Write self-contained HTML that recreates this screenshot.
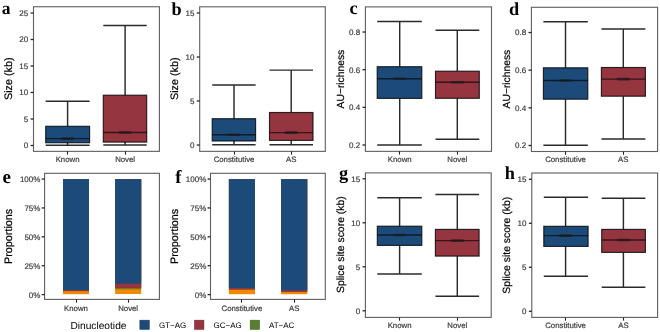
<!DOCTYPE html>
<html><head><meta charset="utf-8"><style>
html,body{margin:0;padding:0;background:#fff;}
body{width:660px;height:332px;overflow:hidden;}
svg{display:block;font-family:"Liberation Sans",sans-serif;will-change:transform;text-rendering:geometricPrecision;}
</style></head><body>
<svg width="660" height="332" viewBox="0 0 660 332">
<rect width="660" height="332" fill="#fff"/>
<g>
<rect x="33.5" y="6.75" width="125.90" height="144.60" fill="none" stroke="#5e5e5e" stroke-width="1.1"/>
<line x1="30.6" y1="145.50" x2="33.5" y2="145.50" stroke="#262626" stroke-width="1.3"/>
<text x="28.20" y="148.40" text-anchor="end" font-size="8" fill="#404040" stroke="#404040" stroke-width="0.2">0</text>
<line x1="30.6" y1="119.00" x2="33.5" y2="119.00" stroke="#262626" stroke-width="1.3"/>
<text x="28.20" y="121.90" text-anchor="end" font-size="8" fill="#404040" stroke="#404040" stroke-width="0.2">5</text>
<line x1="30.6" y1="92.50" x2="33.5" y2="92.50" stroke="#262626" stroke-width="1.3"/>
<text x="28.20" y="95.40" text-anchor="end" font-size="8" fill="#404040" stroke="#404040" stroke-width="0.2">10</text>
<line x1="30.6" y1="66.00" x2="33.5" y2="66.00" stroke="#262626" stroke-width="1.3"/>
<text x="28.20" y="68.90" text-anchor="end" font-size="8" fill="#404040" stroke="#404040" stroke-width="0.2">15</text>
<line x1="30.6" y1="39.50" x2="33.5" y2="39.50" stroke="#262626" stroke-width="1.3"/>
<text x="28.20" y="42.40" text-anchor="end" font-size="8" fill="#404040" stroke="#404040" stroke-width="0.2">20</text>
<line x1="30.6" y1="13.00" x2="33.5" y2="13.00" stroke="#262626" stroke-width="1.3"/>
<text x="28.20" y="15.90" text-anchor="end" font-size="8" fill="#404040" stroke="#404040" stroke-width="0.2">25</text>
<line x1="67.5" y1="151.35" x2="67.5" y2="154.65" stroke="#262626" stroke-width="1.1"/>
<text x="67.6" y="161.95" text-anchor="middle" font-size="7.8" fill="#404040" stroke="#404040" stroke-width="0.2">Known</text>
<line x1="125.5" y1="151.35" x2="125.5" y2="154.65" stroke="#262626" stroke-width="1.1"/>
<text x="125.1" y="161.95" text-anchor="middle" font-size="7.8" fill="#404040" stroke="#404040" stroke-width="0.2">Novel</text>
<text transform="translate(12.1,78.7) rotate(-90)" text-anchor="middle" font-size="10.8" fill="#000" stroke="#000" stroke-width="0.2">Size (kb)</text>
<text x="1.8" y="14.0" font-family="Liberation Serif, serif" font-weight="bold" font-size="17.5" fill="#000">a</text>
<line x1="67.6" y1="101.3" x2="67.6" y2="126.3" stroke="#2a2a2a" stroke-width="1.45"/>
<line x1="67.6" y1="142.75" x2="67.6" y2="145.3" stroke="#2a2a2a" stroke-width="1.45"/>
<line x1="45.7" y1="101.3" x2="89.6" y2="101.3" stroke="#2a2a2a" stroke-width="1.45"/>
<line x1="45.7" y1="145.3" x2="89.6" y2="145.3" stroke="#2a2a2a" stroke-width="1.45"/>
<rect x="45.7" y="126.3" width="43.90" height="16.45" fill="#1d4b79" stroke="#000" stroke-opacity="0.8" stroke-width="1.15"/>
<line x1="45.7" y1="138.6" x2="89.6" y2="138.6" stroke="#000" stroke-opacity="0.62" stroke-width="1.45"/>
<rect x="61.00" y="137.30" width="13.2" height="2.6" rx="1.2" fill="#1a1a1a" fill-opacity="0.7"/>
<line x1="125.1" y1="25.4" x2="125.1" y2="95.2" stroke="#2a2a2a" stroke-width="1.45"/>
<line x1="125.1" y1="142.1" x2="125.1" y2="144.9" stroke="#2a2a2a" stroke-width="1.45"/>
<line x1="103.3" y1="25.4" x2="146.7" y2="25.4" stroke="#2a2a2a" stroke-width="1.45"/>
<line x1="103.3" y1="144.9" x2="146.7" y2="144.9" stroke="#2a2a2a" stroke-width="1.45"/>
<rect x="103.3" y="95.2" width="43.40" height="46.90" fill="#953540" stroke="#000" stroke-opacity="0.8" stroke-width="1.15"/>
<line x1="103.3" y1="132.5" x2="146.7" y2="132.5" stroke="#000" stroke-opacity="0.62" stroke-width="1.45"/>
<rect x="118.50" y="131.20" width="13.2" height="2.6" rx="1.2" fill="#1a1a1a" fill-opacity="0.7"/>
<rect x="199.7" y="6.8" width="125.60" height="144.55" fill="none" stroke="#5e5e5e" stroke-width="1.1"/>
<line x1="196.79999999999998" y1="145.00" x2="199.7" y2="145.00" stroke="#262626" stroke-width="1.3"/>
<text x="194.40" y="147.90" text-anchor="end" font-size="8" fill="#404040" stroke="#404040" stroke-width="0.2">0</text>
<line x1="196.79999999999998" y1="101.00" x2="199.7" y2="101.00" stroke="#262626" stroke-width="1.3"/>
<text x="194.40" y="103.90" text-anchor="end" font-size="8" fill="#404040" stroke="#404040" stroke-width="0.2">5</text>
<line x1="196.79999999999998" y1="57.00" x2="199.7" y2="57.00" stroke="#262626" stroke-width="1.3"/>
<text x="194.40" y="59.90" text-anchor="end" font-size="8" fill="#404040" stroke="#404040" stroke-width="0.2">10</text>
<line x1="196.79999999999998" y1="13.00" x2="199.7" y2="13.00" stroke="#262626" stroke-width="1.3"/>
<text x="194.40" y="15.90" text-anchor="end" font-size="8" fill="#404040" stroke="#404040" stroke-width="0.2">15</text>
<line x1="234.5" y1="151.35" x2="234.5" y2="154.65" stroke="#262626" stroke-width="1.1"/>
<text x="234.0" y="161.95" text-anchor="middle" font-size="7.8" fill="#404040" stroke="#404040" stroke-width="0.2">Constitutive</text>
<line x1="291.5" y1="151.35" x2="291.5" y2="154.65" stroke="#262626" stroke-width="1.1"/>
<text x="291.2" y="161.95" text-anchor="middle" font-size="7.8" fill="#404040" stroke="#404040" stroke-width="0.2">AS</text>
<text transform="translate(178.1,78.7) rotate(-90)" text-anchor="middle" font-size="10.8" fill="#000" stroke="#000" stroke-width="0.2">Size (kb)</text>
<text x="171.6" y="14.8" font-family="Liberation Serif, serif" font-weight="bold" font-size="18.3" fill="#000">b</text>
<line x1="234.0" y1="85.0" x2="234.0" y2="118.7" stroke="#2a2a2a" stroke-width="1.45"/>
<line x1="234.0" y1="141.0" x2="234.0" y2="144.7" stroke="#2a2a2a" stroke-width="1.45"/>
<line x1="212.2" y1="85.0" x2="255.6" y2="85.0" stroke="#2a2a2a" stroke-width="1.45"/>
<line x1="212.2" y1="144.7" x2="255.6" y2="144.7" stroke="#2a2a2a" stroke-width="1.45"/>
<rect x="212.2" y="118.7" width="43.40" height="22.30" fill="#1d4b79" stroke="#000" stroke-opacity="0.8" stroke-width="1.15"/>
<line x1="212.2" y1="134.7" x2="255.6" y2="134.7" stroke="#000" stroke-opacity="0.62" stroke-width="1.45"/>
<rect x="227.40" y="133.40" width="13.2" height="2.6" rx="1.2" fill="#1a1a1a" fill-opacity="0.7"/>
<line x1="291.2" y1="70.1" x2="291.2" y2="112.5" stroke="#2a2a2a" stroke-width="1.45"/>
<line x1="291.2" y1="140.4" x2="291.2" y2="144.75" stroke="#2a2a2a" stroke-width="1.45"/>
<line x1="269.5" y1="70.1" x2="313.0" y2="70.1" stroke="#2a2a2a" stroke-width="1.45"/>
<line x1="269.5" y1="144.75" x2="313.0" y2="144.75" stroke="#2a2a2a" stroke-width="1.45"/>
<rect x="269.5" y="112.5" width="43.50" height="27.90" fill="#953540" stroke="#000" stroke-opacity="0.8" stroke-width="1.15"/>
<line x1="269.5" y1="132.6" x2="313.0" y2="132.6" stroke="#000" stroke-opacity="0.62" stroke-width="1.45"/>
<rect x="284.60" y="131.30" width="13.2" height="2.6" rx="1.2" fill="#1a1a1a" fill-opacity="0.7"/>
<rect x="365.4" y="6.9" width="126.10" height="144.45" fill="none" stroke="#5e5e5e" stroke-width="1.1"/>
<line x1="362.5" y1="145.00" x2="365.4" y2="145.00" stroke="#262626" stroke-width="1.3"/>
<text x="360.10" y="147.90" text-anchor="end" font-size="8" fill="#404040" stroke="#404040" stroke-width="0.2">0.2</text>
<line x1="362.5" y1="107.34" x2="365.4" y2="107.34" stroke="#262626" stroke-width="1.3"/>
<text x="360.10" y="110.24" text-anchor="end" font-size="8" fill="#404040" stroke="#404040" stroke-width="0.2">0.4</text>
<line x1="362.5" y1="69.68" x2="365.4" y2="69.68" stroke="#262626" stroke-width="1.3"/>
<text x="360.10" y="72.58" text-anchor="end" font-size="8" fill="#404040" stroke="#404040" stroke-width="0.2">0.6</text>
<line x1="362.5" y1="32.02" x2="365.4" y2="32.02" stroke="#262626" stroke-width="1.3"/>
<text x="360.10" y="34.92" text-anchor="end" font-size="8" fill="#404040" stroke="#404040" stroke-width="0.2">0.8</text>
<line x1="399.5" y1="151.35" x2="399.5" y2="154.65" stroke="#262626" stroke-width="1.1"/>
<text x="399.7" y="161.95" text-anchor="middle" font-size="7.8" fill="#404040" stroke="#404040" stroke-width="0.2">Known</text>
<line x1="457.5" y1="151.35" x2="457.5" y2="154.65" stroke="#262626" stroke-width="1.1"/>
<text x="457.3" y="161.95" text-anchor="middle" font-size="7.8" fill="#404040" stroke="#404040" stroke-width="0.2">Novel</text>
<text transform="translate(344.1,79.1) rotate(-90)" text-anchor="middle" font-size="10.3" fill="#000" stroke="#000" stroke-width="0.2">AU−richness</text>
<text x="349.6" y="13.6" font-family="Liberation Serif, serif" font-weight="bold" font-size="18.3" fill="#000">c</text>
<line x1="399.7" y1="21.5" x2="399.7" y2="66.7" stroke="#2a2a2a" stroke-width="1.45"/>
<line x1="399.7" y1="98.4" x2="399.7" y2="145.0" stroke="#2a2a2a" stroke-width="1.45"/>
<line x1="377.2" y1="21.5" x2="421.8" y2="21.5" stroke="#2a2a2a" stroke-width="1.45"/>
<line x1="377.2" y1="145.0" x2="421.8" y2="145.0" stroke="#2a2a2a" stroke-width="1.45"/>
<rect x="377.2" y="66.7" width="44.60" height="31.70" fill="#1d4b79" stroke="#000" stroke-opacity="0.8" stroke-width="1.15"/>
<line x1="377.2" y1="78.8" x2="421.8" y2="78.8" stroke="#000" stroke-opacity="0.62" stroke-width="1.45"/>
<rect x="393.10" y="77.50" width="13.2" height="2.6" rx="1.2" fill="#1a1a1a" fill-opacity="0.7"/>
<line x1="457.3" y1="30.2" x2="457.3" y2="71.2" stroke="#2a2a2a" stroke-width="1.45"/>
<line x1="457.3" y1="98.3" x2="457.3" y2="139.3" stroke="#2a2a2a" stroke-width="1.45"/>
<line x1="435.5" y1="30.2" x2="479.3" y2="30.2" stroke="#2a2a2a" stroke-width="1.45"/>
<line x1="435.5" y1="139.3" x2="479.3" y2="139.3" stroke="#2a2a2a" stroke-width="1.45"/>
<rect x="435.5" y="71.2" width="43.80" height="27.10" fill="#953540" stroke="#000" stroke-opacity="0.8" stroke-width="1.15"/>
<line x1="435.5" y1="82.3" x2="479.3" y2="82.3" stroke="#000" stroke-opacity="0.62" stroke-width="1.45"/>
<rect x="450.70" y="81.00" width="13.2" height="2.6" rx="1.2" fill="#1a1a1a" fill-opacity="0.7"/>
<rect x="531.4" y="7.3" width="126.20" height="144.20" fill="none" stroke="#5e5e5e" stroke-width="1.1"/>
<line x1="528.5" y1="145.50" x2="531.4" y2="145.50" stroke="#262626" stroke-width="1.3"/>
<text x="526.10" y="148.40" text-anchor="end" font-size="8" fill="#404040" stroke="#404040" stroke-width="0.2">0.2</text>
<line x1="528.5" y1="107.84" x2="531.4" y2="107.84" stroke="#262626" stroke-width="1.3"/>
<text x="526.10" y="110.74" text-anchor="end" font-size="8" fill="#404040" stroke="#404040" stroke-width="0.2">0.4</text>
<line x1="528.5" y1="70.18" x2="531.4" y2="70.18" stroke="#262626" stroke-width="1.3"/>
<text x="526.10" y="73.08" text-anchor="end" font-size="8" fill="#404040" stroke="#404040" stroke-width="0.2">0.6</text>
<line x1="528.5" y1="32.52" x2="531.4" y2="32.52" stroke="#262626" stroke-width="1.3"/>
<text x="526.10" y="35.42" text-anchor="end" font-size="8" fill="#404040" stroke="#404040" stroke-width="0.2">0.8</text>
<line x1="565.5" y1="151.5" x2="565.5" y2="154.80" stroke="#262626" stroke-width="1.1"/>
<text x="565.5" y="162.10" text-anchor="middle" font-size="7.8" fill="#404040" stroke="#404040" stroke-width="0.2">Constitutive</text>
<line x1="623.5" y1="151.5" x2="623.5" y2="154.80" stroke="#262626" stroke-width="1.1"/>
<text x="623.3" y="162.10" text-anchor="middle" font-size="7.8" fill="#404040" stroke="#404040" stroke-width="0.2">AS</text>
<text transform="translate(510.1,79.1) rotate(-90)" text-anchor="middle" font-size="10.3" fill="#000" stroke="#000" stroke-width="0.2">AU−richness</text>
<text x="509.1" y="14.8" font-family="Liberation Serif, serif" font-weight="bold" font-size="18.3" fill="#000">d</text>
<line x1="565.5" y1="21.8" x2="565.5" y2="67.8" stroke="#2a2a2a" stroke-width="1.45"/>
<line x1="565.5" y1="99.2" x2="565.5" y2="145.2" stroke="#2a2a2a" stroke-width="1.45"/>
<line x1="543.4" y1="21.8" x2="587.8" y2="21.8" stroke="#2a2a2a" stroke-width="1.45"/>
<line x1="543.4" y1="145.2" x2="587.8" y2="145.2" stroke="#2a2a2a" stroke-width="1.45"/>
<rect x="543.4" y="67.8" width="44.40" height="31.40" fill="#1d4b79" stroke="#000" stroke-opacity="0.8" stroke-width="1.15"/>
<line x1="543.4" y1="80.5" x2="587.8" y2="80.5" stroke="#000" stroke-opacity="0.62" stroke-width="1.45"/>
<rect x="558.90" y="79.20" width="13.2" height="2.6" rx="1.2" fill="#1a1a1a" fill-opacity="0.7"/>
<line x1="623.3" y1="29.0" x2="623.3" y2="67.5" stroke="#2a2a2a" stroke-width="1.45"/>
<line x1="623.3" y1="96.2" x2="623.3" y2="138.9" stroke="#2a2a2a" stroke-width="1.45"/>
<line x1="601.4" y1="29.0" x2="645.4" y2="29.0" stroke="#2a2a2a" stroke-width="1.45"/>
<line x1="601.4" y1="138.9" x2="645.4" y2="138.9" stroke="#2a2a2a" stroke-width="1.45"/>
<rect x="601.4" y="67.5" width="44.00" height="28.70" fill="#953540" stroke="#000" stroke-opacity="0.8" stroke-width="1.15"/>
<line x1="601.4" y1="79.1" x2="645.4" y2="79.1" stroke="#000" stroke-opacity="0.62" stroke-width="1.45"/>
<rect x="616.70" y="77.80" width="13.2" height="2.6" rx="1.2" fill="#1a1a1a" fill-opacity="0.7"/>
<rect x="44.6" y="173.3" width="114.80" height="126.10" fill="none" stroke="#5e5e5e" stroke-width="1.1"/>
<line x1="41.7" y1="294.60" x2="44.6" y2="294.60" stroke="#262626" stroke-width="1.3"/>
<text x="40.40" y="297.50" text-anchor="end" font-size="8" fill="#404040" stroke="#404040" stroke-width="0.2">0%</text>
<line x1="41.7" y1="265.71" x2="44.6" y2="265.71" stroke="#262626" stroke-width="1.3"/>
<text x="40.40" y="268.61" text-anchor="end" font-size="8" fill="#404040" stroke="#404040" stroke-width="0.2">25%</text>
<line x1="41.7" y1="236.83" x2="44.6" y2="236.83" stroke="#262626" stroke-width="1.3"/>
<text x="40.40" y="239.73" text-anchor="end" font-size="8" fill="#404040" stroke="#404040" stroke-width="0.2">50%</text>
<line x1="41.7" y1="207.94" x2="44.6" y2="207.94" stroke="#262626" stroke-width="1.3"/>
<text x="40.40" y="210.84" text-anchor="end" font-size="8" fill="#404040" stroke="#404040" stroke-width="0.2">75%</text>
<line x1="41.7" y1="179.05" x2="44.6" y2="179.05" stroke="#262626" stroke-width="1.3"/>
<text x="40.40" y="181.95" text-anchor="end" font-size="8" fill="#404040" stroke="#404040" stroke-width="0.2">100%</text>
<line x1="76.5" y1="299.4" x2="76.5" y2="302.70" stroke="#262626" stroke-width="1.1"/>
<text x="76.0" y="310.60" text-anchor="middle" font-size="7.8" fill="#404040" stroke="#404040" stroke-width="0.2">Known</text>
<line x1="128.5" y1="299.4" x2="128.5" y2="302.70" stroke="#262626" stroke-width="1.1"/>
<text x="128.15" y="310.60" text-anchor="middle" font-size="7.8" fill="#404040" stroke="#404040" stroke-width="0.2">Novel</text>
<text transform="translate(12.1,236.4) rotate(-90)" text-anchor="middle" font-size="10.8" fill="#000" stroke="#000" stroke-width="0.2">Proportions</text>
<text x="2.6" y="183.1" font-family="Liberation Serif, serif" font-weight="bold" font-size="19" fill="#000">e</text>
<rect x="63.0" y="179.1" width="26.00" height="115.10" fill="#f08900"/>
<rect x="63.0" y="179.1" width="26.00" height="112.20" fill="#a06a20"/>
<rect x="63.0" y="179.1" width="26.00" height="111.90" fill="#953540"/>
<rect x="63.0" y="179.1" width="26.00" height="110.90" fill="#1d4b79"/>
<rect x="115.1" y="179.1" width="26.10" height="114.90" fill="#f08900"/>
<rect x="115.1" y="179.1" width="26.10" height="110.20" fill="#7d7325"/>
<rect x="115.1" y="179.1" width="26.10" height="108.90" fill="#953540"/>
<rect x="115.1" y="179.1" width="26.10" height="104.60" fill="#1d4b79"/>
<rect x="210.5" y="173.3" width="114.80" height="126.10" fill="none" stroke="#5e5e5e" stroke-width="1.1"/>
<line x1="207.6" y1="294.60" x2="210.5" y2="294.60" stroke="#262626" stroke-width="1.3"/>
<text x="206.30" y="297.50" text-anchor="end" font-size="8" fill="#404040" stroke="#404040" stroke-width="0.2">0%</text>
<line x1="207.6" y1="265.71" x2="210.5" y2="265.71" stroke="#262626" stroke-width="1.3"/>
<text x="206.30" y="268.61" text-anchor="end" font-size="8" fill="#404040" stroke="#404040" stroke-width="0.2">25%</text>
<line x1="207.6" y1="236.83" x2="210.5" y2="236.83" stroke="#262626" stroke-width="1.3"/>
<text x="206.30" y="239.73" text-anchor="end" font-size="8" fill="#404040" stroke="#404040" stroke-width="0.2">50%</text>
<line x1="207.6" y1="207.94" x2="210.5" y2="207.94" stroke="#262626" stroke-width="1.3"/>
<text x="206.30" y="210.84" text-anchor="end" font-size="8" fill="#404040" stroke="#404040" stroke-width="0.2">75%</text>
<line x1="207.6" y1="179.05" x2="210.5" y2="179.05" stroke="#262626" stroke-width="1.3"/>
<text x="206.30" y="181.95" text-anchor="end" font-size="8" fill="#404040" stroke="#404040" stroke-width="0.2">100%</text>
<line x1="241.5" y1="299.4" x2="241.5" y2="302.70" stroke="#262626" stroke-width="1.1"/>
<text x="241.95" y="310.60" text-anchor="middle" font-size="7.8" fill="#404040" stroke="#404040" stroke-width="0.2">Constitutive</text>
<line x1="294.5" y1="299.4" x2="294.5" y2="302.70" stroke="#262626" stroke-width="1.1"/>
<text x="294.2" y="310.60" text-anchor="middle" font-size="7.8" fill="#404040" stroke="#404040" stroke-width="0.2">AS</text>
<text transform="translate(178.1,236.4) rotate(-90)" text-anchor="middle" font-size="10.8" fill="#000" stroke="#000" stroke-width="0.2">Proportions</text>
<text x="175.2" y="182.9" font-family="Liberation Serif, serif" font-weight="bold" font-size="18.6" fill="#000">f</text>
<rect x="228.9" y="179.1" width="26.10" height="115.10" fill="#f08900"/>
<rect x="228.9" y="179.1" width="26.10" height="110.80" fill="#a06a20"/>
<rect x="228.9" y="179.1" width="26.10" height="110.30" fill="#953540"/>
<rect x="228.9" y="179.1" width="26.10" height="108.90" fill="#1d4b79"/>
<rect x="281.1" y="179.1" width="26.20" height="115.10" fill="#f08900"/>
<rect x="281.1" y="179.1" width="26.20" height="112.90" fill="#953540"/>
<rect x="281.1" y="179.1" width="26.20" height="111.20" fill="#1d4b79"/>
<rect x="365.4" y="172.9" width="125.80" height="144.50" fill="none" stroke="#5e5e5e" stroke-width="1.1"/>
<line x1="362.5" y1="310.80" x2="365.4" y2="310.80" stroke="#262626" stroke-width="1.3"/>
<text x="360.10" y="313.70" text-anchor="end" font-size="8" fill="#404040" stroke="#404040" stroke-width="0.2">0</text>
<line x1="362.5" y1="266.80" x2="365.4" y2="266.80" stroke="#262626" stroke-width="1.3"/>
<text x="360.10" y="269.70" text-anchor="end" font-size="8" fill="#404040" stroke="#404040" stroke-width="0.2">5</text>
<line x1="362.5" y1="222.80" x2="365.4" y2="222.80" stroke="#262626" stroke-width="1.3"/>
<text x="360.10" y="225.70" text-anchor="end" font-size="8" fill="#404040" stroke="#404040" stroke-width="0.2">10</text>
<line x1="362.5" y1="178.80" x2="365.4" y2="178.80" stroke="#262626" stroke-width="1.3"/>
<text x="360.10" y="181.70" text-anchor="end" font-size="8" fill="#404040" stroke="#404040" stroke-width="0.2">15</text>
<line x1="399.5" y1="317.4" x2="399.5" y2="320.70" stroke="#262626" stroke-width="1.1"/>
<text x="399.6" y="327.80" text-anchor="middle" font-size="7.8" fill="#404040" stroke="#404040" stroke-width="0.2">Known</text>
<line x1="457.5" y1="317.4" x2="457.5" y2="320.70" stroke="#262626" stroke-width="1.1"/>
<text x="457.3" y="327.80" text-anchor="middle" font-size="7.8" fill="#404040" stroke="#404040" stroke-width="0.2">Novel</text>
<text transform="translate(344.1,244.6) rotate(-90)" text-anchor="middle" font-size="10.45" fill="#000" stroke="#000" stroke-width="0.2">Splice site score (kb)</text>
<text x="339.0" y="178.7" font-family="Liberation Serif, serif" font-weight="bold" font-size="18.3" fill="#000">g</text>
<line x1="399.6" y1="197.7" x2="399.6" y2="226.2" stroke="#2a2a2a" stroke-width="1.45"/>
<line x1="399.6" y1="245.4" x2="399.6" y2="273.9" stroke="#2a2a2a" stroke-width="1.45"/>
<line x1="377.3" y1="197.7" x2="421.8" y2="197.7" stroke="#2a2a2a" stroke-width="1.45"/>
<line x1="377.3" y1="273.9" x2="421.8" y2="273.9" stroke="#2a2a2a" stroke-width="1.45"/>
<rect x="377.3" y="226.2" width="44.50" height="19.20" fill="#1d4b79" stroke="#000" stroke-opacity="0.8" stroke-width="1.15"/>
<line x1="377.3" y1="235.0" x2="421.8" y2="235.0" stroke="#000" stroke-opacity="0.62" stroke-width="1.45"/>
<rect x="393.00" y="233.70" width="13.2" height="2.6" rx="1.2" fill="#1a1a1a" fill-opacity="0.7"/>
<line x1="457.3" y1="194.4" x2="457.3" y2="229.4" stroke="#2a2a2a" stroke-width="1.45"/>
<line x1="457.3" y1="256.1" x2="457.3" y2="296.2" stroke="#2a2a2a" stroke-width="1.45"/>
<line x1="435.4" y1="194.4" x2="479.1" y2="194.4" stroke="#2a2a2a" stroke-width="1.45"/>
<line x1="435.4" y1="296.2" x2="479.1" y2="296.2" stroke="#2a2a2a" stroke-width="1.45"/>
<rect x="435.4" y="229.4" width="43.70" height="26.70" fill="#953540" stroke="#000" stroke-opacity="0.8" stroke-width="1.15"/>
<line x1="435.4" y1="240.6" x2="479.1" y2="240.6" stroke="#000" stroke-opacity="0.62" stroke-width="1.45"/>
<rect x="450.70" y="239.30" width="13.2" height="2.6" rx="1.2" fill="#1a1a1a" fill-opacity="0.7"/>
<rect x="531.8" y="173.0" width="125.80" height="144.40" fill="none" stroke="#5e5e5e" stroke-width="1.1"/>
<line x1="528.9" y1="311.30" x2="531.8" y2="311.30" stroke="#262626" stroke-width="1.3"/>
<text x="526.50" y="314.20" text-anchor="end" font-size="8" fill="#404040" stroke="#404040" stroke-width="0.2">0</text>
<line x1="528.9" y1="267.30" x2="531.8" y2="267.30" stroke="#262626" stroke-width="1.3"/>
<text x="526.50" y="270.20" text-anchor="end" font-size="8" fill="#404040" stroke="#404040" stroke-width="0.2">5</text>
<line x1="528.9" y1="223.30" x2="531.8" y2="223.30" stroke="#262626" stroke-width="1.3"/>
<text x="526.50" y="226.20" text-anchor="end" font-size="8" fill="#404040" stroke="#404040" stroke-width="0.2">10</text>
<line x1="528.9" y1="179.30" x2="531.8" y2="179.30" stroke="#262626" stroke-width="1.3"/>
<text x="526.50" y="182.20" text-anchor="end" font-size="8" fill="#404040" stroke="#404040" stroke-width="0.2">15</text>
<line x1="565.5" y1="317.4" x2="565.5" y2="320.70" stroke="#262626" stroke-width="1.1"/>
<text x="565.6" y="327.80" text-anchor="middle" font-size="7.8" fill="#404040" stroke="#404040" stroke-width="0.2">Constitutive</text>
<line x1="623.5" y1="317.4" x2="623.5" y2="320.70" stroke="#262626" stroke-width="1.1"/>
<text x="623.4" y="327.80" text-anchor="middle" font-size="7.8" fill="#404040" stroke="#404040" stroke-width="0.2">AS</text>
<text transform="translate(510.1,245.2) rotate(-90)" text-anchor="middle" font-size="10.45" fill="#000" stroke="#000" stroke-width="0.2">Splice site score (kb)</text>
<text x="504.8" y="179.3" font-family="Liberation Serif, serif" font-weight="bold" font-size="18.3" fill="#000">h</text>
<line x1="565.6" y1="197.2" x2="565.6" y2="226.3" stroke="#2a2a2a" stroke-width="1.45"/>
<line x1="565.6" y1="246.4" x2="565.6" y2="276.3" stroke="#2a2a2a" stroke-width="1.45"/>
<line x1="543.8" y1="197.2" x2="588.1" y2="197.2" stroke="#2a2a2a" stroke-width="1.45"/>
<line x1="543.8" y1="276.3" x2="588.1" y2="276.3" stroke="#2a2a2a" stroke-width="1.45"/>
<rect x="543.8" y="226.3" width="44.30" height="20.10" fill="#1d4b79" stroke="#000" stroke-opacity="0.8" stroke-width="1.15"/>
<line x1="543.8" y1="235.6" x2="588.1" y2="235.6" stroke="#000" stroke-opacity="0.62" stroke-width="1.45"/>
<rect x="559.00" y="234.30" width="13.2" height="2.6" rx="1.2" fill="#1a1a1a" fill-opacity="0.7"/>
<line x1="623.4" y1="198.2" x2="623.4" y2="229.4" stroke="#2a2a2a" stroke-width="1.45"/>
<line x1="623.4" y1="252.4" x2="623.4" y2="287.2" stroke="#2a2a2a" stroke-width="1.45"/>
<line x1="601.7" y1="198.2" x2="645.4" y2="198.2" stroke="#2a2a2a" stroke-width="1.45"/>
<line x1="601.7" y1="287.2" x2="645.4" y2="287.2" stroke="#2a2a2a" stroke-width="1.45"/>
<rect x="601.7" y="229.4" width="43.70" height="23.00" fill="#953540" stroke="#000" stroke-opacity="0.8" stroke-width="1.15"/>
<line x1="601.7" y1="240.0" x2="645.4" y2="240.0" stroke="#000" stroke-opacity="0.62" stroke-width="1.45"/>
<rect x="616.80" y="238.70" width="13.2" height="2.6" rx="1.2" fill="#1a1a1a" fill-opacity="0.7"/>
<text x="70.4" y="328.6" font-size="10.2" fill="#000">Dinucleotide</text>
<rect x="139.85" y="320.15" width="9.5" height="9.3" fill="#1d4b79" stroke="#163a5e" stroke-width="0.5"/>
<text x="158.9" y="328.1" font-size="8" fill="#000">GT−AG</text>
<rect x="194.45" y="320.15" width="9.5" height="9.3" fill="#953540" stroke="#6e2630" stroke-width="0.5"/>
<text x="213.6" y="328.1" font-size="8" fill="#000">GC−AG</text>
<rect x="250.15" y="320.15" width="9.5" height="9.3" fill="#5a7e31" stroke="#405c22" stroke-width="0.5"/>
<text x="268.9" y="328.1" font-size="8" fill="#000">AT−AC</text>
</g>
</svg>
</body></html>
